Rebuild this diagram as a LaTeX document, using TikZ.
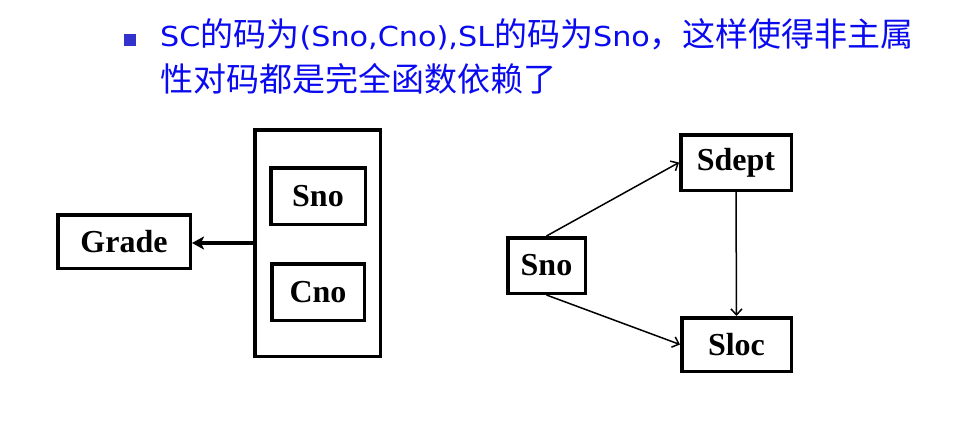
\documentclass[tikz,border=0pt]{standalone}
\usepackage{fontspec}
\newfontfamily\cjkfont{Noto Sans CJK SC}
\newfontfamily\latfont[FakeStretch=1.1]{DejaVu Sans}
\newfontfamily\tmsfont{Liberation Serif}
\usetikzlibrary{arrows.meta}
\definecolor{textblue}{RGB}{10,10,240}
\definecolor{bulletblue}{RGB}{51,51,204}
\newcommand{\latn}[1]{{\latfont\fontsize{27.5}{30}\selectfont #1}}
\newcommand{\han}[1]{{\cjkfont\fontsize{33}{36}\selectfont #1}}
\tikzset{
  box/.style={draw=black, line width=3.5pt, inner sep=0pt, font=\tmsfont\bfseries\fontsize{32}{32}\selectfont},
  thickarrow/.style={line width=3.2pt, -{Stealth[length=12pt,width=13pt,inset=3pt]}},
  thinarrow/.style={line width=1.5pt, -{Straight Barb[length=6pt,width=11pt]}},
  txt/.style={anchor=base west, inner sep=0pt, text=textblue}
}
\begin{document}
\begin{tikzpicture}[x=1pt,y=-1pt]
\useasboundingbox (0,0) rectangle (954,424);
% bullet
\fill[bulletblue] (124,34) rectangle (136,46);
\node[txt] (line1) at (160,46) {\latn{SC}\han{的码为}\latn{(Sno,Cno),SL}\han{的码为}\latn{Sno}\han{，这样使得非主属}};
\node[txt] (line2) at (160,91) {\han{性对码都是完全函数依赖了}};
% left diagram
\node[box, minimum width=132.5pt, minimum height=53.5pt] (grade) at (124,241.5) {Grade};
\node[box, minimum width=125.5pt, minimum height=226.5pt] (big) at (317.5,243) {};
\node[box, minimum width=94.5pt, minimum height=56.5pt] (sno1) at (318,196) {Sno};
\node[box, minimum width=92.5pt, minimum height=56.5pt] (cno) at (318,292) {Cno};
\draw[thickarrow] (big.west) -- (big.west -| grade.east);
% right diagram
\node[box, minimum width=110.5pt, minimum height=55.5pt] (sdept) at (736,162.5) {Sdept};
\node[box, minimum width=77.5pt, minimum height=55.5pt] (sno2) at (546.5,265.5) {Sno};
\node[box, minimum width=109.5pt, minimum height=53.5pt] (sloc) at (736.5,344.5) {Sloc};
\draw[thinarrow] (sno2.north) -- (sdept.west);
\draw[thinarrow] (sno2.south) -- (sloc.west);
\draw[thinarrow] (sdept.south) -- (sloc.north);
\end{tikzpicture}
\end{document}
